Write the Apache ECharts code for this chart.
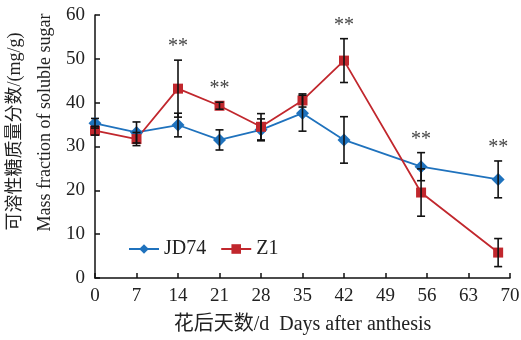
<!DOCTYPE html>
<html><head><meta charset="utf-8">
<script src="https://cdn.jsdelivr.net/npm/echarts@6/dist/echarts.min.js"></script>
<style>html,body{margin:0;padding:0;background:#fff}#c{width:521px;height:340px}</style>
</head><body><div id="c"></div>
<script>
const days = [0, 7, 14, 21, 28, 35, 42, 55, 68];
const jd74 = [35.3, 33.2, 34.9, 31.5, 33.8, 37.6, 31.5, 25.4, 22.5];
const jd74Err = [1.1, 2.4, 2.7, 2.3, 2.5, 4.1, 5.3, 3.2, 4.2];
const z1 = [33.6, 31.7, 43.2, 39.3, 34.5, 40.5, 49.6, 19.5, 5.8];
const z1Err = [1.0, 1.5, 6.5, 0.8, 3.0, 1.5, 5.0, 5.4, 3.2];
const sigDays = [14, 21, 42, 55, 68];
const xTicks = [0, 7, 14, 21, 28, 35, 42, 49, 56, 63, 70];
const yTicks = [0, 10, 20, 30, 40, 50, 60];

const BLUE = '#1f72bd', RED = '#c1272d';
const serif = '"Liberation Serif","DejaVu Serif",serif';
const cjk = '"Liberation Serif","Noto Sans CJK SC",serif';

const errData = [];
days.forEach((d, i) => {
  errData.push([d, jd74[i] - jd74Err[i], jd74[i] + jd74Err[i]]);
  errData.push([d, z1[i] - z1Err[i], z1[i] + z1Err[i]]);
});
const sigData = sigDays.map(d => {
  const i = days.indexOf(d);
  return [d, Math.max(jd74[i] + jd74Err[i], z1[i] + z1Err[i])];
});

function errItem(params, api) {
  const x = api.value(0);
  const lo = api.coord([x, api.value(1)]);
  const hi = api.coord([x, api.value(2)]);
  const w = 4;
  const st = { stroke: '#111', lineWidth: 1.6 };
  return { type: 'group', children: [
    { type: 'line', shape: { x1: lo[0], y1: lo[1], x2: hi[0], y2: hi[1] }, style: st },
    { type: 'line', shape: { x1: lo[0] - w, y1: lo[1], x2: lo[0] + w, y2: lo[1] }, style: st },
    { type: 'line', shape: { x1: hi[0] - w, y1: hi[1], x2: hi[0] + w, y2: hi[1] }, style: st }
  ]};
}
function sigItem(params, api) {
  const p = api.coord([api.value(0), api.value(1)]);
  return { type: 'text', x: p[0], y: p[1] - 13, style: {
    text: '**', fill: '#444', font: '20px ' + serif, textAlign: 'center', textVerticalAlign: 'middle' } };
}

const chart = echarts.init(document.getElementById('c'), null, { renderer: 'canvas' });
chart.setOption({
  animation: false,
  grid: { left: 95, right: 11, top: 15, bottom: 62, containLabel: false, outerBoundsMode: 'none' },
  legend: {
    left: 123, top: 234, itemWidth: 30, itemHeight: 12, itemGap: 14,
    textStyle: { fontFamily: serif, fontSize: 20, color: '#222' },
    data: ['JD74', 'Z1']
  },
  xAxis: {
    type: 'value', min: 0, max: 70, interval: 7,
    name: '花后天数/d  Days after anthesis', nameLocation: 'middle', nameGap: 37, nameMoveOverlap: false,
    nameTextStyle: { fontFamily: cjk, fontSize: 20, color: '#222' },
    axisLine: { lineStyle: { color: '#111', width: 1.5 } },
    axisTick: { inside: true, length: 5, lineStyle: { color: '#111', width: 1.5 } },
    axisLabel: { fontFamily: serif, fontSize: 19, color: '#222', margin: 9 },
    splitLine: { show: false }
  },
  yAxis: {
    type: 'value', min: 0, max: 60, interval: 10,
    name: '{a|可溶性糖质量分数/(mg/g)}\n{b|Mass fraction of soluble sugar}', nameLocation: 'middle', nameGap: 35, nameMoveOverlap: false,
    nameTextStyle: { fontFamily: cjk, fontSize: 18, color: '#222', lineHeight: 30, align: 'center',
      rich: {
        a: { fontFamily: cjk, fontSize: 18, color: '#222', lineHeight: 30, padding: [0, 0, 0, 30] },
        b: { fontFamily: cjk, fontSize: 18, color: '#222', lineHeight: 30, padding: [0, 0, 0, 48] }
      } },
    axisLine: { show: true, lineStyle: { color: '#111', width: 1.5 } },
    axisTick: { show: true, inside: true, length: 5, lineStyle: { color: '#111', width: 1.5 } },
    axisLabel: { fontFamily: serif, fontSize: 19, color: '#222', margin: 10 },
    splitLine: { show: false }
  },
  series: [
    { name: 'JD74', type: 'line', data: days.map((d, i) => [d, jd74[i]]),
      symbol: 'diamond', symbolSize: 13, lineStyle: { color: BLUE, width: 1.8 },
      itemStyle: { color: BLUE }, z: 3 },
    { name: 'Z1', type: 'line', data: days.map((d, i) => [d, z1[i]]),
      symbol: 'rect', symbolSize: 10, lineStyle: { color: RED, width: 1.8 },
      itemStyle: { color: RED }, z: 3 },
    { type: 'custom', data: errData, renderItem: errItem, z: 4, silent: true },
    { type: 'custom', data: sigData, renderItem: sigItem, z: 5, silent: true }
  ]
});
</script></body></html>
